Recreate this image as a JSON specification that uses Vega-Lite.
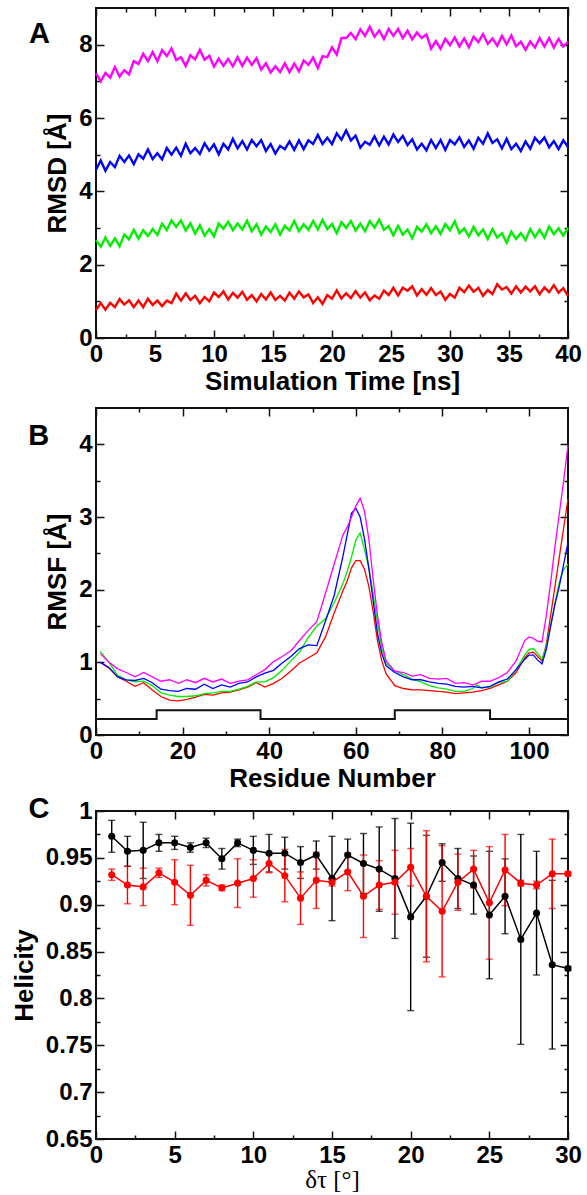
{
  "$schema": "https://vega.github.io/schema/vega-lite/v6.json",
  "background": "white",
  "padding": {"left": 10, "top": 6, "right": 0, "bottom": 0},
  "spacing": 2,
  "resolve": {"scale": {"color": "independent"}},
  "config": {
    "view": {"stroke": "#111111", "strokeWidth": 2},
    "axis": {"labelFont": "Liberation Sans", "labelFontWeight": "bold", "labelFontSize": 24, "labelColor": "black", "titleFont": "Liberation Sans", "titleFontWeight": "bold", "titleFontSize": 26, "titleColor": "black", "domain": false, "grid": false, "tickColor": "#111111", "tickWidth": 1.5, "labelPadding": 12, "titlePadding": 4, "minExtent": 0, "labelFlush": false, "labelOverlap": false},
    "axisX": {"minExtent": 0, "titlePadding": 2},
    "axisY": {"minExtent": 0, "titlePadding": 8}
  },
  "vconcat": [
    {
      "width": 472, "height": 330,
      "layer": [
        {
          "data": {"values": [
            {"t":0,"r":0.76,"g":2.67,"b":4.59,"m":7.22},{"t":0.4,"r":0.95,"g":2.49,"b":4.84,"m":7.00},{"t":0.8,"r":0.77,"g":2.74,"b":4.56,"m":7.23},{"t":1.2,"r":0.96,"g":2.51,"b":4.80,"m":7.10},{"t":1.6,"r":0.84,"g":2.72,"b":4.66,"m":7.39},
            {"t":2.0,"r":1.06,"g":2.50,"b":4.97,"m":7.13},{"t":2.4,"r":0.91,"g":2.82,"b":4.80,"m":7.30},{"t":2.8,"r":1.03,"g":2.69,"b":4.98,"m":7.19},{"t":3.2,"r":0.84,"g":2.95,"b":4.74,"m":7.55},{"t":3.6,"r":1.02,"g":2.71,"b":5.01,"m":7.47},
            {"t":4.0,"r":0.84,"g":2.94,"b":4.89,"m":7.75},{"t":4.4,"r":1.07,"g":2.78,"b":5.14,"m":7.55},{"t":4.8,"r":0.90,"g":2.97,"b":4.88,"m":7.80},{"t":5.2,"r":1.02,"g":2.81,"b":5.04,"m":7.55},{"t":5.6,"r":0.87,"g":3.12,"b":4.87,"m":7.85},
            {"t":6.0,"r":1.02,"g":2.94,"b":5.18,"m":7.69},{"t":6.4,"r":0.95,"g":3.21,"b":5.00,"m":7.90},{"t":6.8,"r":1.21,"g":3.03,"b":5.19,"m":7.58},{"t":7.2,"r":1.02,"g":3.21,"b":4.97,"m":7.66},{"t":7.6,"r":1.22,"g":2.93,"b":5.30,"m":7.42},
            {"t":8.0,"r":1.04,"g":3.13,"b":5.04,"m":7.71},{"t":8.4,"r":1.15,"g":2.85,"b":5.18,"m":7.60},{"t":8.8,"r":0.95,"g":3.08,"b":5.02,"m":7.86},{"t":9.2,"r":1.12,"g":2.79,"b":5.31,"m":7.59},{"t":9.6,"r":1.00,"g":2.97,"b":5.11,"m":7.70},
            {"t":10.0,"r":1.24,"g":2.77,"b":5.28,"m":7.40},{"t":10.4,"r":1.12,"g":3.12,"b":5.01,"m":7.62},{"t":10.8,"r":1.27,"g":2.98,"b":5.30,"m":7.42},{"t":11.2,"r":1.05,"g":3.17,"b":5.14,"m":7.61},{"t":11.6,"r":1.23,"g":2.94,"b":5.43,"m":7.41},
            {"t":12.0,"r":1.10,"g":3.12,"b":5.17,"m":7.66},{"t":12.4,"r":1.26,"g":2.96,"b":5.37,"m":7.42},{"t":12.8,"r":1.04,"g":3.20,"b":5.14,"m":7.65},{"t":13.2,"r":1.17,"g":2.91,"b":5.40,"m":7.45},{"t":13.6,"r":1.00,"g":3.10,"b":5.23,"m":7.63},
            {"t":14.0,"r":1.20,"g":2.82,"b":5.40,"m":7.32},{"t":14.4,"r":1.05,"g":3.04,"b":5.10,"m":7.49},{"t":14.8,"r":1.24,"g":2.89,"b":5.29,"m":7.24},{"t":15.2,"r":1.04,"g":3.10,"b":5.03,"m":7.41},{"t":15.6,"r":1.15,"g":2.82,"b":5.24,"m":7.25},
            {"t":16.0,"r":1.02,"g":3.06,"b":5.15,"m":7.49},{"t":16.4,"r":1.24,"g":2.93,"b":5.36,"m":7.25},{"t":16.8,"r":1.07,"g":3.19,"b":5.13,"m":7.48},{"t":17.2,"r":1.27,"g":2.91,"b":5.39,"m":7.27},{"t":17.6,"r":1.11,"g":3.10,"b":5.15,"m":7.57},
            {"t":18.0,"r":1.19,"g":2.95,"b":5.39,"m":7.45},{"t":18.4,"r":0.95,"g":3.19,"b":5.29,"m":7.65},{"t":18.8,"r":1.11,"g":2.96,"b":5.54,"m":7.36},{"t":19.2,"r":0.93,"g":3.22,"b":5.29,"m":7.69},{"t":19.6,"r":1.17,"g":2.97,"b":5.46,"m":7.66},
            {"t":20.0,"r":1.07,"g":3.11,"b":5.29,"m":7.93},{"t":20.4,"r":1.30,"g":2.86,"b":5.58,"m":7.73},{"t":20.8,"r":1.08,"g":3.16,"b":5.41,"m":8.18},{"t":21.2,"r":1.22,"g":3.00,"b":5.66,"m":8.18},{"t":21.6,"r":1.09,"g":3.19,"b":5.39,"m":8.32},
            {"t":22.0,"r":1.28,"g":2.93,"b":5.52,"m":8.15},{"t":22.4,"r":1.10,"g":3.12,"b":5.19,"m":8.42},{"t":22.8,"r":1.24,"g":2.91,"b":5.35,"m":8.24},{"t":23.2,"r":1.03,"g":3.19,"b":5.27,"m":8.49},{"t":23.6,"r":1.16,"g":3.01,"b":5.50,"m":8.22},
            {"t":24.0,"r":1.07,"g":3.23,"b":5.25,"m":8.39},{"t":24.4,"r":1.29,"g":2.95,"b":5.49,"m":8.15},{"t":24.8,"r":1.17,"g":3.05,"b":5.28,"m":8.43},{"t":25.2,"r":1.37,"g":2.80,"b":5.55,"m":8.24},{"t":25.6,"r":1.16,"g":3.06,"b":5.35,"m":8.43},
            {"t":26.0,"r":1.37,"g":2.82,"b":5.51,"m":8.18},{"t":26.4,"r":1.29,"g":2.96,"b":5.26,"m":8.38},{"t":26.8,"r":1.41,"g":2.72,"b":5.42,"m":8.14},{"t":27.2,"r":1.16,"g":3.03,"b":5.14,"m":8.33},{"t":27.6,"r":1.33,"g":2.90,"b":5.30,"m":8.18},
            {"t":28.0,"r":1.18,"g":3.10,"b":5.12,"m":8.28},{"t":28.4,"r":1.36,"g":2.86,"b":5.40,"m":7.89},{"t":28.8,"r":1.17,"g":3.05,"b":5.18,"m":8.10},{"t":29.2,"r":1.27,"g":2.84,"b":5.40,"m":7.89},{"t":29.6,"r":1.04,"g":3.11,"b":5.13,"m":8.16},
            {"t":30.0,"r":1.20,"g":2.94,"b":5.40,"m":7.99},{"t":30.4,"r":1.10,"g":3.18,"b":5.28,"m":8.20},{"t":30.8,"r":1.37,"g":2.86,"b":5.47,"m":7.95},{"t":31.2,"r":1.25,"g":2.99,"b":5.21,"m":8.17},{"t":31.6,"r":1.43,"g":2.77,"b":5.39,"m":7.93},
            {"t":32.0,"r":1.26,"g":3.03,"b":5.16,"m":8.22},{"t":32.4,"r":1.37,"g":2.80,"b":5.46,"m":8.07},{"t":32.8,"r":1.15,"g":2.96,"b":5.30,"m":8.29},{"t":33.2,"r":1.31,"g":2.70,"b":5.58,"m":8.02},{"t":33.6,"r":1.20,"g":2.97,"b":5.32,"m":8.17},
            {"t":34.0,"r":1.47,"g":2.74,"b":5.42,"m":7.97},{"t":34.4,"r":1.32,"g":2.86,"b":5.17,"m":8.24},{"t":34.8,"r":1.39,"g":2.60,"b":5.43,"m":8.01},{"t":35.2,"r":1.21,"g":2.90,"b":5.15,"m":8.25},{"t":35.6,"r":1.41,"g":2.70,"b":5.30,"m":7.96},
            {"t":36.0,"r":1.24,"g":2.86,"b":5.10,"m":8.08},{"t":36.4,"r":1.40,"g":2.67,"b":5.36,"m":7.86},{"t":36.8,"r":1.27,"g":2.97,"b":5.16,"m":8.09},{"t":37.2,"r":1.41,"g":2.75,"b":5.46,"m":7.92},{"t":37.6,"r":1.19,"g":2.95,"b":5.31,"m":8.18},
            {"t":38.0,"r":1.38,"g":2.74,"b":5.47,"m":7.95},{"t":38.4,"r":1.25,"g":3.04,"b":5.20,"m":8.18},{"t":38.8,"r":1.44,"g":2.83,"b":5.37,"m":7.92},{"t":39.2,"r":1.24,"g":2.99,"b":5.15,"m":8.16},{"t":39.6,"r":1.36,"g":2.79,"b":5.39,"m":7.95},
            {"t":40.0,"r":1.15,"g":3.01,"b":5.21,"m":8.08}
          ]},
          "transform": [{"fold": ["r", "g", "b", "m"], "as": ["series", "rmsd"]}],
          "mark": {"type": "line", "strokeWidth": 2.4},
          "encoding": {
            "x": {"field": "t", "type": "quantitative", "scale": {"domain": [0, 40], "nice": false, "zero": false}, "axis": {"orient": "bottom", "title": "Simulation Time [ns]", "values": [0,5,10,15,20,25,30,35,40], "tickSize": -8}},
            "y": {"field": "rmsd", "type": "quantitative", "scale": {"domain": [0, 9], "nice": false, "zero": false}, "axis": {"orient": "left", "title": "RMSD [Å]", "values": [0,2,4,6,8], "tickSize": -8}},
            "color": {"field": "series", "type": "nominal", "scale": {"domain": ["r","g","b","m"], "range": ["#ff0000","#00ee00","#0000ff","#ff00ff"]}, "legend": null}
          }
        },
        {
          "data": {"values": [{"a": 20, "b": 4}]},
          "mark": {"type": "point", "opacity": 0},
          "encoding": {
            "x": {"field": "a", "type": "quantitative", "scale": {"domain": [0, 40], "nice": false, "zero": false}, "axis": {"orient": "bottom", "title": null, "labels": false, "values": [2.5,7.5,12.5,17.5,22.5,27.5,32.5,37.5], "tickSize": -4}},
            "y": {"field": "b", "type": "quantitative", "scale": {"domain": [0, 9], "nice": false, "zero": false}, "axis": {"orient": "left", "title": null, "labels": false, "values": [1,3,5,7], "tickSize": -4}}
          }
        },
        {
          "data": {"values": [{"a": 20, "b": 4}]},
          "mark": {"type": "point", "opacity": 0},
          "encoding": {
            "x": {"field": "a", "type": "quantitative", "scale": {"domain": [0, 40], "nice": false, "zero": false}, "axis": {"orient": "top", "title": null, "labels": false, "values": [0,5,10,15,20,25,30,35,40], "tickSize": -8}},
            "y": {"field": "b", "type": "quantitative", "scale": {"domain": [0, 9], "nice": false, "zero": false}, "axis": {"orient": "right", "title": null, "labels": false, "values": [0,2,4,6,8], "tickSize": -8}}
          }
        },
        {
          "data": {"values": [{"a": 20, "b": 4}]},
          "mark": {"type": "point", "opacity": 0},
          "encoding": {
            "x": {"field": "a", "type": "quantitative", "scale": {"domain": [0, 40], "nice": false, "zero": false}, "axis": {"orient": "top", "title": null, "labels": false, "values": [2.5,7.5,12.5,17.5,22.5,27.5,32.5,37.5], "tickSize": -4}},
            "y": {"field": "b", "type": "quantitative", "scale": {"domain": [0, 9], "nice": false, "zero": false}, "axis": {"orient": "right", "title": null, "labels": false, "values": [1,3,5,7], "tickSize": -4}}
          }
        },
        {
          "data": {"values": [{"lx": -4.8, "ly": 8.3, "lab": "A"}]},
          "mark": {"type": "text", "font": "Liberation Sans", "fontWeight": "bold", "fontSize": 29, "align": "center", "baseline": "middle", "color": "black"},
          "encoding": {
            "x": {"field": "lx", "type": "quantitative", "scale": {"domain": [0, 40], "nice": false, "zero": false}, "axis": null},
            "y": {"field": "ly", "type": "quantitative", "scale": {"domain": [0, 9], "nice": false, "zero": false}, "axis": null},
            "text": {"field": "lab"}
          }
        }
      ],
      "resolve": {"axis": {"x": "independent", "y": "independent"}}
    },
    {
      "width": 472, "height": 327,
      "layer": [
        {
          "data": {"values": [
            {"res":1,"r":1.00,"g":1.15,"b":1.00,"m":1.12},{"res":3,"r":0.92,"g":1.00,"b":0.93,"m":1.00},{"res":5,"r":0.80,"g":0.82,"b":0.80,"m":0.91},{"res":7,"r":0.74,"g":0.76,"b":0.76,"m":0.86},
            {"res":9,"r":0.67,"g":0.73,"b":0.75,"m":0.80},{"res":11,"r":0.72,"g":0.74,"b":0.78,"m":0.86},{"res":13,"r":0.62,"g":0.68,"b":0.72,"m":0.80},{"res":15,"r":0.53,"g":0.58,"b":0.63,"m":0.74},
            {"res":17,"r":0.48,"g":0.55,"b":0.61,"m":0.76},{"res":19,"r":0.47,"g":0.53,"b":0.60,"m":0.71},{"res":21,"r":0.49,"g":0.53,"b":0.64,"m":0.76},{"res":23,"r":0.52,"g":0.54,"b":0.63,"m":0.72},
            {"res":25,"r":0.56,"g":0.57,"b":0.70,"m":0.78},{"res":27,"r":0.55,"g":0.58,"b":0.64,"m":0.73},{"res":29,"r":0.58,"g":0.60,"b":0.69,"m":0.77},{"res":31,"r":0.59,"g":0.60,"b":0.66,"m":0.71},
            {"res":33,"r":0.62,"g":0.63,"b":0.71,"m":0.74},{"res":35,"r":0.66,"g":0.67,"b":0.73,"m":0.76},{"res":37,"r":0.72,"g":0.73,"b":0.80,"m":0.83},{"res":39,"r":0.66,"g":0.73,"b":0.85,"m":0.90},
            {"res":41,"r":0.71,"g":0.79,"b":0.89,"m":1.01},{"res":43,"r":0.78,"g":0.89,"b":0.99,"m":1.08},{"res":45,"r":0.88,"g":1.02,"b":1.08,"m":1.16},{"res":47,"r":0.99,"g":1.14,"b":1.19,"m":1.30},
            {"res":49,"r":1.06,"g":1.34,"b":1.24,"m":1.44},{"res":51,"r":1.13,"g":1.50,"b":1.23,"m":1.56},{"res":53,"r":1.35,"g":1.60,"b":1.57,"m":1.95},{"res":55,"r":1.68,"g":1.82,"b":1.92,"m":2.35},
            {"res":57,"r":1.98,"g":2.08,"b":2.45,"m":2.75},{"res":58,"r":2.12,"g":2.25,"b":2.75,"m":2.86},{"res":59,"r":2.30,"g":2.45,"b":3.05,"m":3.00},{"res":60,"r":2.40,"g":2.68,"b":3.12,"m":3.15},
            {"res":61,"r":2.40,"g":2.78,"b":3.00,"m":3.26},{"res":62,"r":2.28,"g":2.55,"b":2.70,"m":3.08},{"res":63,"r":2.05,"g":2.30,"b":2.30,"m":2.70},{"res":64,"r":1.70,"g":1.95,"b":1.85,"m":2.15},
            {"res":65,"r":1.30,"g":1.55,"b":1.40,"m":1.65},{"res":66,"r":1.02,"g":1.20,"b":1.12,"m":1.27},{"res":67,"r":0.84,"g":0.98,"b":0.95,"m":1.02},{"res":69,"r":0.68,"g":0.88,"b":0.86,"m":0.88},
            {"res":71,"r":0.64,"g":0.83,"b":0.80,"m":0.86},{"res":73,"r":0.62,"g":0.77,"b":0.76,"m":0.81},{"res":75,"r":0.62,"g":0.73,"b":0.76,"m":0.83},{"res":77,"r":0.61,"g":0.68,"b":0.73,"m":0.78},
            {"res":79,"r":0.60,"g":0.65,"b":0.71,"m":0.77},{"res":81,"r":0.59,"g":0.63,"b":0.70,"m":0.78},{"res":83,"r":0.57,"g":0.60,"b":0.67,"m":0.71},{"res":85,"r":0.58,"g":0.60,"b":0.66,"m":0.72},
            {"res":87,"r":0.59,"g":0.64,"b":0.67,"m":0.69},{"res":88,"r":0.60,"g":0.69,"b":0.66,"m":0.71},{"res":89,"r":0.61,"g":0.65,"b":0.65,"m":0.74},{"res":91,"r":0.64,"g":0.66,"b":0.67,"m":0.74},
            {"res":93,"r":0.69,"g":0.72,"b":0.73,"m":0.79},{"res":95,"r":0.74,"g":0.74,"b":0.77,"m":0.86},{"res":97,"r":0.86,"g":0.90,"b":0.90,"m":1.02},{"res":99,"r":1.06,"g":1.10,"b":1.04,"m":1.30},
            {"res":100,"r":1.13,"g":1.18,"b":1.10,"m":1.35},{"res":101,"r":1.14,"g":1.19,"b":1.10,"m":1.33},{"res":102,"r":1.08,"g":1.12,"b":1.03,"m":1.29},{"res":103,"r":1.02,"g":1.04,"b":0.98,"m":1.28},
            {"res":104,"r":1.25,"g":1.22,"b":1.18,"m":1.65},{"res":105,"r":1.65,"g":1.50,"b":1.50,"m":2.10},{"res":106,"r":2.05,"g":1.82,"b":1.80,"m":2.60},{"res":107,"r":2.45,"g":2.10,"b":2.05,"m":3.05},
            {"res":108,"r":2.85,"g":2.28,"b":2.35,"m":3.50},{"res":109,"r":3.25,"g":2.35,"b":2.65,"m":3.99}
          ]},
          "transform": [{"fold": ["r", "g", "b", "m"], "as": ["series", "rmsf"]}],
          "mark": {"type": "line", "strokeWidth": 1.3},
          "encoding": {
            "x": {"field": "res", "type": "quantitative", "scale": {"domain": [0, 109], "nice": false, "zero": false}, "axis": {"orient": "bottom", "title": "Residue Number", "values": [0,20,40,60,80,100], "tickSize": -8}},
            "y": {"field": "rmsf", "type": "quantitative", "scale": {"domain": [0, 4.5], "nice": false, "zero": false}, "axis": {"orient": "left", "title": "RMSF [Å]", "values": [0,1,2,3,4], "tickSize": -8}},
            "color": {"field": "series", "type": "nominal", "scale": {"domain": ["r","g","b","m"], "range": ["#ff0000","#00ee00","#0000ff","#ff00ff"]}, "legend": null}
          }
        },
        {
          "data": {"values": [{"res":0,"ss":0.22},{"res":14,"ss":0.34},{"res":38,"ss":0.22},{"res":69,"ss":0.34},{"res":91,"ss":0.22},{"res":109,"ss":0.22}]},
          "mark": {"type": "line", "interpolate": "step-after", "color": "#111111", "strokeWidth": 2},
          "encoding": {
            "x": {"field": "res", "type": "quantitative", "scale": {"domain": [0, 109], "nice": false, "zero": false}, "axis": null},
            "y": {"field": "ss", "type": "quantitative", "scale": {"domain": [0, 4.5], "nice": false, "zero": false}, "axis": null}
          }
        },
        {
          "data": {"values": [{"a": 50, "b": 2}]},
          "mark": {"type": "point", "opacity": 0},
          "encoding": {
            "x": {"field": "a", "type": "quantitative", "scale": {"domain": [0, 109], "nice": false, "zero": false}, "axis": {"orient": "bottom", "title": null, "labels": false, "values": [10,30,50,70,90], "tickSize": -4}},
            "y": {"field": "b", "type": "quantitative", "scale": {"domain": [0, 4.5], "nice": false, "zero": false}, "axis": {"orient": "left", "title": null, "labels": false, "values": [0.5,1.5,2.5,3.5], "tickSize": -4}}
          }
        },
        {
          "data": {"values": [{"a": 50, "b": 2}]},
          "mark": {"type": "point", "opacity": 0},
          "encoding": {
            "x": {"field": "a", "type": "quantitative", "scale": {"domain": [0, 109], "nice": false, "zero": false}, "axis": {"orient": "top", "title": null, "labels": false, "values": [0,20,40,60,80,100], "tickSize": -8}},
            "y": {"field": "b", "type": "quantitative", "scale": {"domain": [0, 4.5], "nice": false, "zero": false}, "axis": {"orient": "right", "title": null, "labels": false, "values": [0,1,2,3,4], "tickSize": -8}}
          }
        },
        {
          "data": {"values": [{"a": 50, "b": 2}]},
          "mark": {"type": "point", "opacity": 0},
          "encoding": {
            "x": {"field": "a", "type": "quantitative", "scale": {"domain": [0, 109], "nice": false, "zero": false}, "axis": {"orient": "top", "title": null, "labels": false, "values": [10,30,50,70,90], "tickSize": -4}},
            "y": {"field": "b", "type": "quantitative", "scale": {"domain": [0, 4.5], "nice": false, "zero": false}, "axis": {"orient": "right", "title": null, "labels": false, "values": [0.5,1.5,2.5,3.5], "tickSize": -4}}
          }
        },
        {
          "data": {"values": [{"lx": -13.2, "ly": 4.11, "lab": "B", "op": 1}, {"lx": -13.2, "ly": 4.438, "lab": "B", "op": 0}]},
          "mark": {"type": "text", "font": "Liberation Sans", "fontWeight": "bold", "fontSize": 29, "align": "center", "baseline": "middle", "color": "black"},
          "encoding": {
            "x": {"field": "lx", "type": "quantitative", "scale": {"domain": [0, 109], "nice": false, "zero": false}, "axis": null},
            "y": {"field": "ly", "type": "quantitative", "scale": {"domain": [0, 4.5], "nice": false, "zero": false}, "axis": null},
            "opacity": {"field": "op", "type": "quantitative", "scale": null},
            "text": {"field": "lab"}
          }
        }
      ],
      "resolve": {"axis": {"x": "independent", "y": "independent"}}
    },
    {
      "width": 472, "height": 328,
      "layer": [
        {
          "data": {"name": "hel"},
          "mark": {"type": "line", "strokeWidth": 1.5},
          "encoding": {
            "x": {"field": "dt", "type": "quantitative", "scale": {"domain": [0, 30], "nice": false, "zero": false}, "axis": {"orient": "bottom", "title": "δτ [°]", "titleFont": "Liberation Serif", "titleFontWeight": "normal", "titleFontSize": 25, "titlePadding": 0, "values": [0,5,10,15,20,25,30], "tickSize": -8}},
            "y": {"field": "h", "type": "quantitative", "scale": {"domain": [0.65, 1], "nice": false, "zero": false}, "axis": {"orient": "left", "title": "Helicity", "values": [0.65,0.7,0.75,0.8,0.85,0.9,0.95,1], "format": "~g", "tickSize": -8}},
            "color": {"field": "s", "type": "nominal", "scale": {"domain": ["black","red"], "range": ["#000000","#ff0000"]}, "legend": null}
          }
        },
        {
          "data": {"name": "hel"},
          "mark": {"type": "errorbar", "ticks": {"size": 7}, "thickness": 1.4},
          "encoding": {
            "x": {"field": "dt", "type": "quantitative", "scale": {"domain": [0, 30], "nice": false, "zero": false}, "axis": null},
            "y": {"field": "h", "type": "quantitative", "scale": {"domain": [0.65, 1], "nice": false, "zero": false}, "axis": null},
            "yError": {"field": "e"},
            "color": {"field": "s", "type": "nominal", "scale": {"domain": ["black","red"], "range": ["#000000","#ff0000"]}, "legend": null}
          }
        },
        {
          "data": {"name": "hel"},
          "mark": {"type": "point", "filled": true, "size": 50, "opacity": 1},
          "encoding": {
            "x": {"field": "dt", "type": "quantitative", "scale": {"domain": [0, 30], "nice": false, "zero": false}, "axis": null},
            "y": {"field": "h", "type": "quantitative", "scale": {"domain": [0.65, 1], "nice": false, "zero": false}, "axis": null},
            "color": {"field": "s", "type": "nominal", "scale": {"domain": ["black","red"], "range": ["#000000","#ff0000"]}, "legend": null}
          }
        },
        {
          "data": {"values": [{"a": 15, "b": 0.8}]},
          "mark": {"type": "point", "opacity": 0},
          "encoding": {
            "x": {"field": "a", "type": "quantitative", "scale": {"domain": [0, 30], "nice": false, "zero": false}, "axis": {"orient": "bottom", "title": null, "labels": false, "values": [2.5,7.5,12.5,17.5,22.5,27.5], "tickSize": -4}},
            "y": {"field": "b", "type": "quantitative", "scale": {"domain": [0.65, 1], "nice": false, "zero": false}, "axis": {"orient": "left", "title": null, "labels": false, "values": [0.675,0.725,0.775,0.825,0.875,0.925,0.975], "tickSize": -4}}
          }
        },
        {
          "data": {"values": [{"a": 15, "b": 0.8}]},
          "mark": {"type": "point", "opacity": 0},
          "encoding": {
            "x": {"field": "a", "type": "quantitative", "scale": {"domain": [0, 30], "nice": false, "zero": false}, "axis": {"orient": "top", "title": null, "labels": false, "values": [0,5,10,15,20,25,30], "tickSize": -8}},
            "y": {"field": "b", "type": "quantitative", "scale": {"domain": [0.65, 1], "nice": false, "zero": false}, "axis": {"orient": "right", "title": null, "labels": false, "values": [0.65,0.7,0.75,0.8,0.85,0.9,0.95,1], "tickSize": -8}}
          }
        },
        {
          "data": {"values": [{"a": 15, "b": 0.8}]},
          "mark": {"type": "point", "opacity": 0},
          "encoding": {
            "x": {"field": "a", "type": "quantitative", "scale": {"domain": [0, 30], "nice": false, "zero": false}, "axis": {"orient": "top", "title": null, "labels": false, "values": [2.5,7.5,12.5,17.5,22.5,27.5], "tickSize": -4}},
            "y": {"field": "b", "type": "quantitative", "scale": {"domain": [0.65, 1], "nice": false, "zero": false}, "axis": {"orient": "right", "title": null, "labels": false, "values": [0.675,0.725,0.775,0.825,0.875,0.925,0.975], "tickSize": -4}}
          }
        },
        {
          "data": {"values": [{"lx": -3.62, "ly": 1.002, "lab": "C"}]},
          "mark": {"type": "text", "font": "Liberation Sans", "fontWeight": "bold", "fontSize": 29, "align": "center", "baseline": "middle", "color": "black"},
          "encoding": {
            "x": {"field": "lx", "type": "quantitative", "scale": {"domain": [0, 30], "nice": false, "zero": false}, "axis": null},
            "y": {"field": "ly", "type": "quantitative", "scale": {"domain": [0.65, 1], "nice": false, "zero": false}, "axis": null},
            "text": {"field": "lab"}
          }
        }
      ],
      "resolve": {"axis": {"x": "independent", "y": "independent"}}
    }
  ],
  "datasets": {
    "hel": [
      {"dt":1,"s":"black","h":0.973,"e":0.017},{"dt":2,"s":"black","h":0.957,"e":0.016},{"dt":3,"s":"black","h":0.958,"e":0.03},{"dt":4,"s":"black","h":0.966,"e":0.009},{"dt":5,"s":"black","h":0.966,"e":0.007},
      {"dt":6,"s":"black","h":0.961,"e":0.005},{"dt":7,"s":"black","h":0.966,"e":0.005},{"dt":8,"s":"black","h":0.949,"e":0.011},{"dt":9,"s":"black","h":0.966,"e":0.004},{"dt":10,"s":"black","h":0.958,"e":0.015},
      {"dt":11,"s":"black","h":0.955,"e":0.02},{"dt":12,"s":"black","h":0.955,"e":0.017},{"dt":13,"s":"black","h":0.945,"e":0.017},{"dt":14,"s":"black","h":0.953,"e":0.015},{"dt":15,"s":"black","h":0.928,"e":0.045},
      {"dt":16,"s":"black","h":0.953,"e":0.017},{"dt":17,"s":"black","h":0.944,"e":0.032},{"dt":18,"s":"black","h":0.938,"e":0.045},{"dt":19,"s":"black","h":0.928,"e":0.064},{"dt":20,"s":"black","h":0.887,"e":0.1},
      {"dt":21,"s":"black","h":0.909,"e":0.065},{"dt":22,"s":"black","h":0.945,"e":0.02},{"dt":23,"s":"black","h":0.928,"e":0.032},{"dt":24,"s":"black","h":0.921,"e":0.031},{"dt":25,"s":"black","h":0.889,"e":0.068},
      {"dt":26,"s":"black","h":0.909,"e":0.04},{"dt":27,"s":"black","h":0.863,"e":0.112},{"dt":28,"s":"black","h":0.891,"e":0.066},{"dt":29,"s":"black","h":0.836,"e":0.09},{"dt":30,"s":"black","h":0.832,"e":0.002},
      {"dt":1,"s":"red","h":0.932,"e":0.006},{"dt":2,"s":"red","h":0.921,"e":0.02},{"dt":3,"s":"red","h":0.919,"e":0.02},{"dt":4,"s":"red","h":0.934,"e":0.005},{"dt":5,"s":"red","h":0.924,"e":0.024},
      {"dt":6,"s":"red","h":0.91,"e":0.032},{"dt":7,"s":"red","h":0.926,"e":0.006},{"dt":8,"s":"red","h":0.918,"e":0.003},{"dt":9,"s":"red","h":0.923,"e":0.026},{"dt":10,"s":"red","h":0.928,"e":0.02},
      {"dt":11,"s":"red","h":0.944,"e":0.01},{"dt":12,"s":"red","h":0.931,"e":0.028},{"dt":13,"s":"red","h":0.907,"e":0.028},{"dt":14,"s":"red","h":0.926,"e":0.03},{"dt":15,"s":"red","h":0.924,"e":0.004},
      {"dt":16,"s":"red","h":0.935,"e":0.02},{"dt":17,"s":"red","h":0.909,"e":0.044},{"dt":18,"s":"red","h":0.921,"e":0.026},{"dt":19,"s":"red","h":0.924,"e":0.034},{"dt":20,"s":"red","h":0.94,"e":0.02},
      {"dt":21,"s":"red","h":0.909,"e":0.07},{"dt":22,"s":"red","h":0.893,"e":0.07},{"dt":23,"s":"red","h":0.924,"e":0.03},{"dt":24,"s":"red","h":0.938,"e":0.02},{"dt":25,"s":"red","h":0.902,"e":0.06},
      {"dt":26,"s":"red","h":0.937,"e":0.038},{"dt":27,"s":"red","h":0.923,"e":0.003},{"dt":28,"s":"red","h":0.921,"e":0.004},{"dt":29,"s":"red","h":0.933,"e":0.037},{"dt":30,"s":"red","h":0.933,"e":0.002}
    ]
  }
}
